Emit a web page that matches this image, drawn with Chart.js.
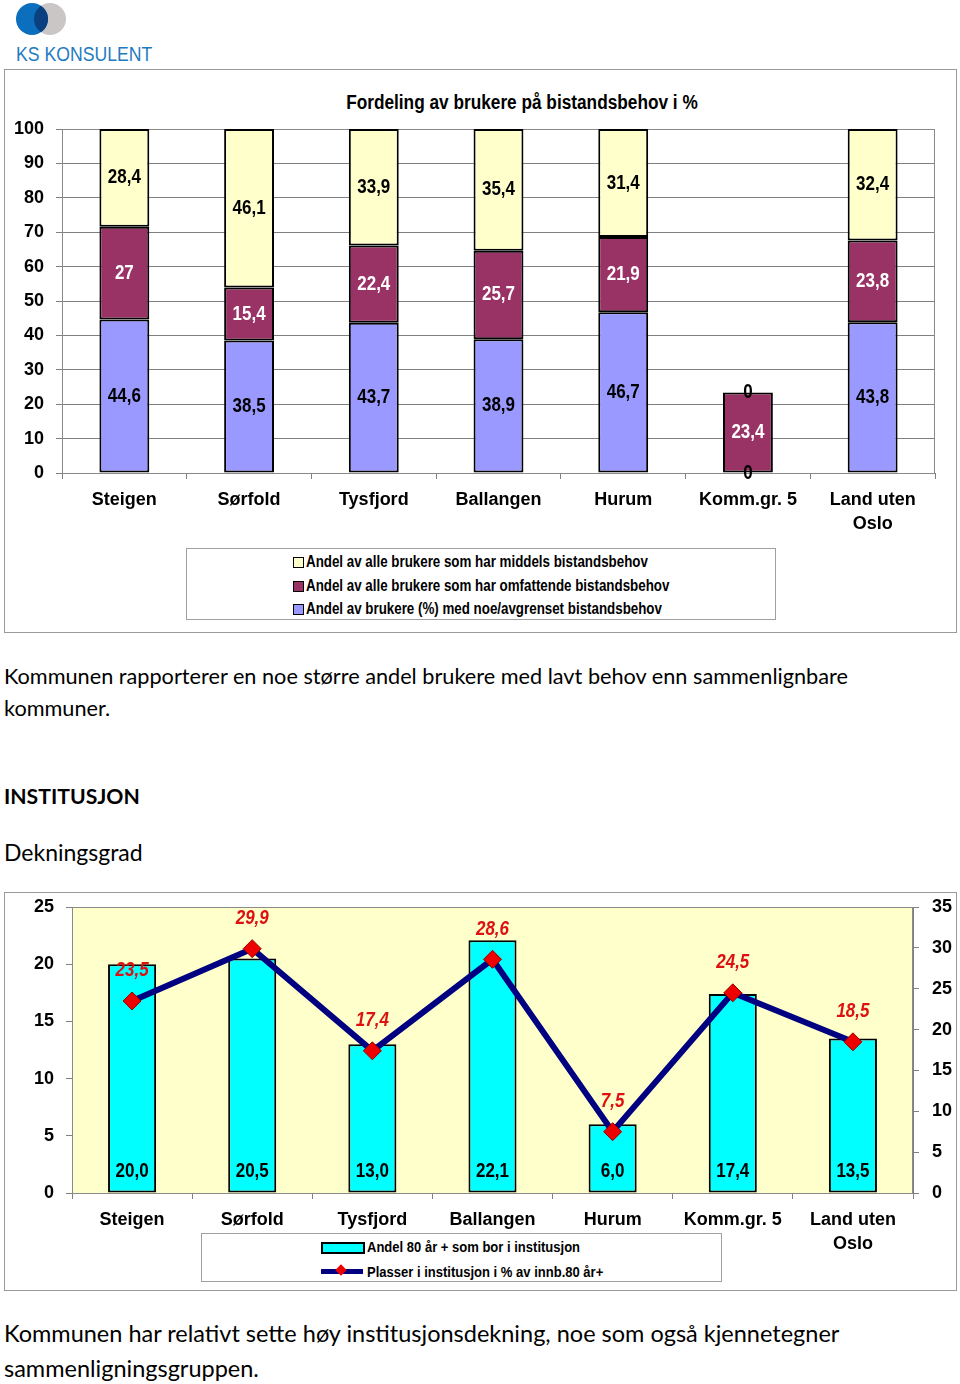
<!DOCTYPE html>
<html lang="no">
<head>
<meta charset="UTF-8">
<title>Bistandsbehov og dekningsgrad</title>
<script src="https://cdn.jsdelivr.net/npm/chart.js"></script>
<style>
  body { margin:0; background:#fff; width:960px; height:1384px; position:relative; overflow:hidden;
         font-family: Lato, "Open Sans", sans-serif; color:#000; }
  .abs { position:absolute; white-space:nowrap; }
  .narrow { font-family: "Liberation Sans Narrow", "Arial Narrow", "Liberation Sans", Arial, sans-serif; font-weight:bold; }
  .cond { display:inline-block; transform-origin:left center; }
  .frame { position:absolute; border:1px solid #9a9a9a; box-sizing:border-box; }
  .legend { position:absolute; border:1px solid #a0a0a0; box-sizing:border-box; background:#fff; }
  .item { position:absolute; white-space:nowrap; }
  canvas { position:absolute; }
</style>
</head>
<body>

<!-- logo -->
<svg class="abs" style="left:0;top:0" width="80" height="40">
  <defs><clipPath id="blueClip"><circle cx="32" cy="19" r="16"/></clipPath></defs>
  <circle cx="50" cy="19" r="16" fill="#cbc6c6"/>
  <circle cx="32" cy="19" r="16" fill="#0b6fbe"/>
  <circle cx="50" cy="19" r="16" fill="#0a3f80" clip-path="url(#blueClip)"/>
</svg>
<div class="abs" style="left:16px;top:41px;font-family:'Liberation Sans',Arial,sans-serif;font-size:21px;color:#1f7bc1;line-height:26px">
  <span class="cond" style="transform:scaleX(0.84)">KS KONSULENT</span></div>

<!-- chart 1 -->
<div class="frame" style="left:4px;top:69px;width:953px;height:564px"></div>
<div class="abs narrow" style="left:272px;width:500px;text-align:center;top:90px;font-size:20px;line-height:24px">
  <span class="cond" style="transform:scaleX(0.862);transform-origin:center">Fordeling av brukere på bistandsbehov i %</span></div>
<canvas id="chart1" width="951" height="470" style="left:5px;top:70px"></canvas>
<div class="legend" id="legend1" style="left:186px;top:548px;width:590px;height:72px"></div>

<div class="abs" style="left:4px;top:660px;line-height:32px;font-size:21.7px">Kommunen rapporterer en noe større andel brukere med lavt behov enn sammenlignbare<br>kommuner.</div>
<div class="abs" style="left:4px;top:781px;line-height:30px;font-size:21.2px;font-weight:bold">INSTITUSJON</div>
<div class="abs" style="left:4px;top:837px;line-height:30px;font-size:23px">Dekningsgrad</div>

<!-- chart 2 -->
<div class="frame" style="left:4px;top:892px;width:953px;height:399px"></div>
<canvas id="chart2" width="951" height="367" style="left:5px;top:893px"></canvas>
<div class="legend" id="legend2" style="left:201px;top:1233px;width:521px;height:49px"></div>

<div class="abs" style="left:4px;top:1316px;line-height:35px;font-size:23.5px">Kommunen har relativt sette høy institusjonsdekning, noe som også kjennetegner<br>sammenligningsgruppen.</div>

<script>
// ---- data ----
const categories = ['Steigen', 'Sørfold', 'Tysfjord', 'Ballangen', 'Hurum', 'Komm.gr. 5', ['Land uten', 'Oslo']];

// chart 1: share of users by need level (%), stacked bottom to top
const noeAvgrenset = [44.6, 38.5, 43.7, 38.9, 46.7, 0, 43.8];
const omfattende   = [27, 15.4, 22.4, 25.7, 21.9, 23.4, 23.8];
const middels      = [28.4, 46.1, 33.9, 35.4, 31.4, 0, 32.4];
const names1 = [
  'Andel av brukere (%) med noe/avgrenset bistandsbehov',
  'Andel av alle brukere som har omfattende bistandsbehov',
  'Andel av alle brukere som har middels bistandsbehov'
];
const ticks1 = [0, 10, 20, 30, 40, 50, 60, 70, 80, 90, 100];

// chart 2: coverage
const andel80 = [20.0, 20.5, 13.0, 22.1, 6.0, 17.4, 13.5];
const plasser = [23.5, 29.9, 17.4, 28.6, 7.5, 24.5, 18.5];
const names2 = ['Andel 80 år + som bor i institusjon', 'Plasser i institusjon i % av innb.80 år+'];

const FONT = '"Liberation Sans Narrow", "Arial Narrow", "Liberation Sans", Arial, sans-serif';
Chart.defaults.font.family = FONT;
Chart.defaults.font.weight = 'bold';
Chart.defaults.color = '#000';
Chart.defaults.animation = false;

const comma = v => String(v).replace('.', ',');
const comma1 = v => v.toFixed(1).replace('.', ',');

// draws value labels using a per-dataset "lbl" setting (text squeezed to look like a narrow face)
const valueLabels = {
  id: 'valueLabels',
  afterDatasetsDraw(chart) {
    const ctx = chart.ctx;
    chart.data.datasets.forEach((ds, i) => {
      if (!ds.lbl) return;
      const meta = chart.getDatasetMeta(i);
      meta.data.forEach((el, j) => {
        let y;
        if (ds.lbl.pos === 'center') y = el.getCenterPoint().y;
        else if (ds.lbl.pos === 'base') y = el.base - ds.lbl.dy;
        else y = el.y - ds.lbl.dy;
        ctx.save();
        ctx.font = ds.lbl.font;
        ctx.fillStyle = ds.lbl.color;
        ctx.textAlign = 'center';
        ctx.textBaseline = 'middle';
        ctx.translate(el.x, y);
        ctx.scale(0.85, 1);
        ctx.fillText(ds.lbl.fmt(ds.data[j]), 0, 0);
        ctx.restore();
      });
    });
  }
};

// plot area fill + border
const plotFrame = {
  id: 'plotFrame',
  beforeDatasetsDraw(chart) {
    const a = chart.chartArea, ctx = chart.ctx;
    ctx.save();
    ctx.strokeStyle = '#8a8a8a';
    ctx.lineWidth = 1;
    ctx.strokeRect(a.left + 0.5, a.top + 0.5, a.width - 1, a.height);
    ctx.restore();
  },
  beforeDraw(chart, args, opts) {
    if (!opts.fill) return;
    const a = chart.chartArea, ctx = chart.ctx;
    ctx.save();
    ctx.fillStyle = opts.fill;
    ctx.fillRect(a.left, a.top, a.width, a.height);
    ctx.restore();
  }
};

const xAxis = (h, pad) => ({
  stacked: true,
  grid: { offset: true, drawOnChartArea: false, tickLength: 6, color: '#808080' },
  border: { color: '#808080' },
  ticks: { font: { size: 18, weight: 'bold', lineHeight: 1.333 }, padding: pad, maxRotation: 0, autoSkip: false },
  afterFit: s => { s.height = h; }
});

// vertical axis with fixed width and no extra top/bottom room
const yFit = w => s => { s.width = w; s.paddingTop = 0; s.paddingBottom = 0; };

// ---- chart 1 ----
const barStyle = { borderColor: '#000', borderWidth: 2, borderSkipped: false, categoryPercentage: 1, barPercentage: 0.4 };
const lblFont = 'bold 20px ' + FONT;
new Chart(document.getElementById('chart1'), {
  type: 'bar',
  data: {
    labels: categories,
    datasets: [
      Object.assign({ label: names1[0], data: noeAvgrenset, backgroundColor: '#9999ff',
        lbl: { pos: 'center', color: '#000', font: lblFont, fmt: comma } }, barStyle),
      Object.assign({ label: names1[1], data: omfattende, backgroundColor: '#993366',
        lbl: { pos: 'center', color: '#fff', font: lblFont, fmt: comma } }, barStyle),
      Object.assign({ label: names1[2], data: middels, backgroundColor: '#ffffcc',
        lbl: { pos: 'center', color: '#000', font: lblFont, fmt: comma } }, barStyle)
    ]
  },
  options: {
    responsive: false,
    layout: { padding: { top: 59, right: 21, left: 0, bottom: 0 } },
    plugins: { legend: { display: false }, tooltip: { enabled: false } },
    scales: {
      x: xAxis(67, 9),
      y: {
        stacked: true, min: 0, max: 100,
        afterBuildTicks: s => { s.ticks = ticks1.map(v => ({ value: v })); },
        grid: { color: '#808080', tickLength: 6 },
        border: { color: '#808080' },
        ticks: { font: { size: 18, weight: 'bold' }, padding: 12 },
        afterFit: yFit(57)
      }
    }
  },
  plugins: [plotFrame, valueLabels]
});

// ---- chart 2 ----
new Chart(document.getElementById('chart2'), {
  type: 'bar',
  data: {
    labels: categories,
    datasets: [
      { type: 'line', label: names2[1], data: plasser, yAxisID: 'y1', order: 0,
        borderColor: '#000080', borderWidth: 6, pointStyle: 'rectRot', pointRadius: 9,
        pointBackgroundColor: '#ee0000', pointBorderColor: '#990000', pointBorderWidth: 1,
        lbl: { pos: 'point', dy: 30, color: '#dd1111', font: 'italic ' + lblFont, fmt: comma1 } },
      Object.assign({ label: names2[0], data: andel80, yAxisID: 'y', order: 1, backgroundColor: '#00ffff',
        lbl: { pos: 'base', dy: 21, color: '#000', font: lblFont, fmt: comma1 } }, barStyle)
    ]
  },
  options: {
    responsive: false,
    layout: { autoPadding: false, padding: { top: 14, right: 0, left: 0, bottom: 0 } },
    plugins: { legend: { display: false }, tooltip: { enabled: false }, plotFrame: { fill: '#ffffcc' } },
    scales: {
      x: xAxis(67, 9),
      y: {
        position: 'left', min: 0, max: 25,
        ticks: { stepSize: 5, font: { size: 18, weight: 'bold' }, padding: 12 },
        grid: { drawOnChartArea: false, tickLength: 6, color: '#808080' },
        border: { color: '#808080' },
        afterFit: yFit(67)
      },
      y1: {
        position: 'right', min: 0, max: 35,
        ticks: { stepSize: 5, font: { size: 18, weight: 'bold' }, padding: 13 },
        grid: { drawOnChartArea: false, tickLength: 6, color: '#808080' },
        border: { color: '#808080' },
        afterFit: yFit(43)
      }
    }
  },
  plugins: [plotFrame, valueLabels]
});

// ---- HTML legends ----
const leg1 = document.getElementById('legend1');
const legColors1 = ['#9999ff', '#993366', '#ffffcc'];
[2, 1, 0].forEach((k, row) => {
  const cy = 13 + row * 23.5;
  leg1.insertAdjacentHTML('beforeend',
    `<div class="item" style="left:106px;top:${cy - 5}px;width:9px;height:9px;border:1px solid #000;background:${legColors1[k]}"></div>` +
    `<div class="item narrow" style="left:119px;top:${cy - 10}px;font-size:16px;line-height:20px"><span class="cond" style="transform:scaleX(0.834)">${names1[k]}</span></div>`);
});
const leg2 = document.getElementById('legend2');
leg2.insertAdjacentHTML('beforeend',
  `<div class="item" style="left:119px;top:8px;width:40px;height:8px;border:2px solid #000;background:#00ffff"></div>` +
  `<div class="item narrow" style="left:165px;top:3px;font-size:15.5px;line-height:19px"><span class="cond" style="transform:scaleX(0.84)">${names2[0]}</span></div>` +
  `<div class="item" style="left:119px;top:35px;width:42px;height:5px;background:#000080"></div>` +
  `<div class="item" style="left:135px;top:32px;width:8px;height:8px;background:#ee0000;transform:rotate(45deg)"></div>` +
  `<div class="item narrow" style="left:165px;top:28px;font-size:15.5px;line-height:19px"><span class="cond" style="transform:scaleX(0.84)">${names2[1]}</span></div>`);
</script>
</body>
</html>
